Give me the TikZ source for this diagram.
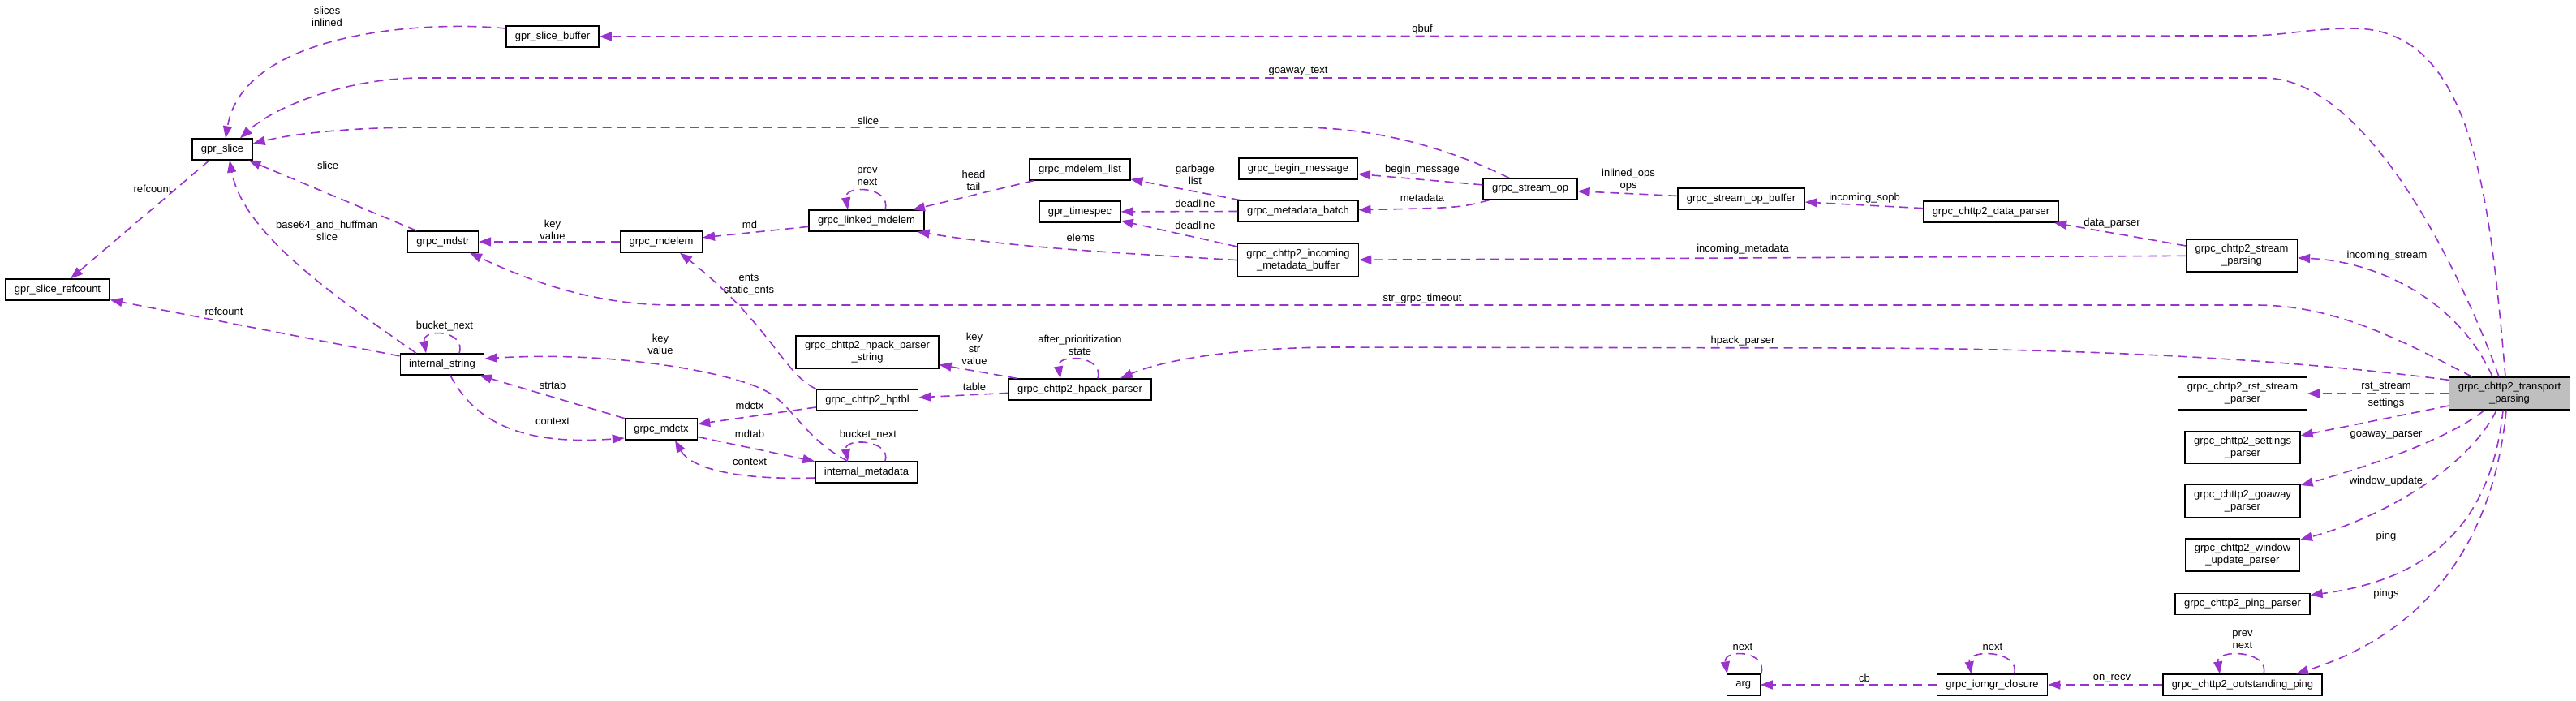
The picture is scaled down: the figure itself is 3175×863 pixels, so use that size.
\documentclass[tikz,border=0pt]{standalone}
\usepackage{fontspec}
\setmainfont{Liberation Sans}
\usepackage{tikz}
\usetikzlibrary{positioning, arrows.meta}
\definecolor{edgepurple}{rgb}{0.604,0.196,0.804}
\definecolor{rootgray}{rgb}{0.75,0.75,0.75}
\tikzstyle{cls}=[%
      rectangle, draw=black, line width=1.3pt, fill=white,
      font=\fontsize{13}{15}\selectfont, align=center,
      minimum height=26pt, inner xsep=11pt, inner ysep=3pt
]
\tikzstyle{cls2}=[cls, minimum height=40pt]
\tikzstyle{rootcls}=[cls2, fill=rootgray]
\tikzstyle{rel}=[%
      draw=edgepurple, line width=1.6pt, dash pattern=on 11pt off 7pt,
      -{Triangle[length=15pt,width=11pt]}
]
\tikzstyle{lbl}=[font=\fontsize{13}{15}\selectfont, align=center, inner sep=0pt]

\begin{document}
\begin{tikzpicture}[x=1pt, y=-1pt]
    \useasboundingbox (0,0) rectangle (3175,863);

    % classes
    \node[cls] (gsb)    at (681,45)   {gpr\_slice\_buffer};
    \node[cls] (gs)     at (274,184)  {gpr\_slice};
    \node[cls] (gsr)    at (71,357)   {gpr\_slice\_refcount};
    \node[cls] (mdstr)  at (546,298)  {grpc\_mdstr};
    \node[cls] (istr)   at (545,449)  {internal\_string};
    \node[cls] (mdelem) at (815,298)  {grpc\_mdelem};
    \node[cls] (mdctx)  at (815,529)  {grpc\_mdctx};
    \node[cls] (lmd)    at (1068,272) {grpc\_linked\_mdelem};
    \node[cls] (mdl)    at (1331,209) {grpc\_mdelem\_list};
    \node[cls] (ts)     at (1331,261) {gpr\_timespec};
    \node[cls2] (hps)   at (1069,434) {grpc\_chttp2\_hpack\_parser\\\_string};
    \node[cls] (hptbl)  at (1069,493) {grpc\_chttp2\_hptbl};
    \node[cls] (imd)    at (1068,582) {internal\_metadata};
    \node[cls] (hpp)    at (1331,480) {grpc\_chttp2\_hpack\_parser};
    \node[cls] (bm)     at (1600,208) {grpc\_begin\_message};
    \node[cls] (mb)     [below = 25pt of bm] {grpc\_metadata\_batch};
    \node[cls2] (imb)   [below = 26pt of mb] {grpc\_chttp2\_incoming\\\_metadata\_buffer};
    \node[cls] (sop)    at (1886,233) {grpc\_stream\_op};
    \node[cls] (sopb)   at (2146,245) {grpc\_stream\_op\_buffer};
    \node[cls] (dp)     at (2454,261) {grpc\_chttp2\_data\_parser};
    \node[cls2] (sp)    at (2763,315) {grpc\_chttp2\_stream\\\_parsing};
    \node[rootcls] (tp) at (3093,485) {grpc\_chttp2\_transport\\\_parsing};
    \node[cls2] (rst)   at (2764,485) {grpc\_chttp2\_rst\_stream\\\_parser};
    \node[cls2] (settings) [below = 25pt of rst]      {grpc\_chttp2\_settings\\\_parser};
    \node[cls2] (goaway)   [below = 25pt of settings] {grpc\_chttp2\_goaway\\\_parser};
    \node[cls2] (window)   [below = 25pt of goaway]   {grpc\_chttp2\_window\\\_update\_parser};
    \node[cls] (ping)      [below = 26pt of window]   {grpc\_chttp2\_ping\_parser};
    \node[cls] (oping)  at (2764,844) {grpc\_chttp2\_outstanding\_ping};
    \node[cls] (closure) [left = 141pt of oping] {grpc\_iomgr\_closure};
    \node[cls] (arg)     [left = 217pt of closure] {arg};

    % members
    \draw[rel] ([xshift=-5pt]tp.north) .. controls (3068,230) and (3045,35) .. (2900,35)
               .. controls (2845,35) and (2815,44) .. (2770,44) -- (gsb);
    \draw[rel] ([yshift=10pt]gsb.west) .. controls (520,25) and (300,40) .. ([xshift=4pt]gs.north);
    \draw[rel] ([xshift=-13pt]tp.north) .. controls (3050,380) and (2930,96) .. (2790,96) -- (520,96)
               .. controls (430,96) and (340,130) .. ([xshift=22pt]gs.north);
    \draw[rel] ([xshift=-26pt]sop.north) .. controls (1790,185) and (1700,157) .. (1600,157) -- (520,157)
               .. controls (430,157) and (360,165) .. ([yshift=7pt]gs.east);
    \draw[rel] (gs) -- (gsr);
    \draw[rel] (mdstr) -- (gs);
    \draw[rel] ([xshift=-32pt]istr.north) .. controls (420,370) and (300,290) .. ([xshift=9pt]gs.south);
    \draw[rel] (istr) -- (gsr);
    \draw[rel] ([xshift=21pt]istr.north) .. controls +(9,-29) and +(-5,-31) .. ([xshift=-20pt]istr.north);
    \draw[rel] (mdelem) -- (mdstr);
    \draw[rel] ([xshift=-46pt]tp.north) .. controls (2960,420) and (2880,376) .. (2780,376) -- (830,376)
               .. controls (730,376) and (650,345) .. ([xshift=33pt]mdstr.south);
    \draw[rel] ([xshift=-23pt]imd.north) .. controls (990,540) and (975,495) .. (940,480)
               .. controls (900,460) and (760,432) .. ([yshift=7pt]istr.east);
    \draw[rel] (hptbl.north west) .. controls (965,460) and (950,400) .. ([xshift=23pt]mdelem.south);
    \draw[rel] (lmd) -- (mdelem);
    \draw[rel] ([xshift=23pt]lmd.north) .. controls +(8,-29) and +(-5,-31) .. ([xshift=-23pt]lmd.north);
    \draw[rel] (mdl) -- (lmd);
    \draw[rel] (imb.west) .. controls (1380,312) and (1250,305) .. ([xshift=-9pt]lmd.south east);
    \draw[rel] (mb) -- (mdl);
    \draw[rel] (mb) -- (ts);
    \draw[rel] (imb) -- (ts);
    \draw[rel] (sop) -- (bm);
    \draw[rel] ([xshift=8pt]sop.south west) .. controls (1800,256) .. (mb);
    \draw[rel] (sopb) -- (sop);
    \draw[rel] (dp) -- (sopb);
    \draw[rel] (sp) -- (dp);
    \draw[rel] (sp) -- (imb);
    \draw[rel] ([xshift=-21pt]tp.north) .. controls (3030,370) and (2930,322) .. (sp);
    \draw[rel] ([yshift=-4pt]tp.north west) .. controls (2800,440) and (2550,430) .. (2300,429) -- (1650,428)
               .. controls (1520,428) and (1430,445) .. ([xshift=50pt]hpp.north);
    \draw[rel] ([xshift=22pt]hpp.north) .. controls +(8,-29) and +(-5,-31) .. ([xshift=-24pt]hpp.north);
    \draw[rel] (hpp) -- (hps);
    \draw[rel] (hpp) -- (hptbl);
    \draw[rel] (hptbl) -- (mdctx);
    \draw[rel] (mdctx) -- (istr);
    \draw[rel] ([xshift=10pt]istr.south) .. controls (590,530) and (660,548) .. ([yshift=-11pt]mdctx.west);
    \draw[rel] (mdctx) -- (imd);
    \draw[rel] ([yshift=-7pt]imd.west) .. controls (900,592) and (850,575) .. ([xshift=17pt]mdctx.south);
    \draw[rel] ([xshift=23pt]imd.north) .. controls +(8,-27) and +(-5,-29) .. ([xshift=-23pt]imd.north);
    \draw[rel] (tp) -- (rst);
    \draw[rel] (tp) -- (settings);
    \draw[rel] ([xshift=-31pt]tp.south) .. controls (3020,540) and (2920,575) .. (goaway);
    \draw[rel] ([xshift=-16pt]tp.south) .. controls (3040,580) and (2930,640) .. (window);
    \draw[rel] ([xshift=-8pt]tp.south) .. controls (3070,650) and (2990,715) .. (ping);
    \draw[rel] ([xshift=-4pt]tp.south) .. controls (3070,700) and (2960,790) .. ([xshift=66pt]oping.north);
    \draw[rel] ([xshift=26pt]oping.north) .. controls +(8,-29) and +(-5,-31) .. ([xshift=-28pt]oping.north);
    \draw[rel] (oping) -- (closure);
    \draw[rel] ([xshift=27pt]closure.north) .. controls +(8,-29) and +(-5,-31) .. ([xshift=-26pt]closure.north);
    \draw[rel] (closure) -- (arg);
    \draw[rel] ([xshift=22pt]arg.north) .. controls +(8,-29) and +(-5,-31) .. ([xshift=-20pt]arg.north);

    % member names
    \node[lbl] (lqbuf)     at (1753,36)  {qbuf};
    \node[lbl] (lslices)   at (403,20)   {slices\\inlined};
    \node[lbl] (lgotext)   at (1600,88)  {goaway\_text};
    \node[lbl] (lslice)    at (1070,149) {slice};
    \node[lbl] (lrefc)     at (188,233)  {refcount};
    \node[lbl] (lslicestr) at (404,204)  {slice};
    \node[lbl] (lbase)     at (403,284)  {base64\_and\_huffman\\slice};
    \node[lbl] (lrefcis)   at (276,384)  {refcount};
    \node[lbl] (lbucket)   at (548,402)  {bucket\_next};
    \node[lbl] (lkv)       at (681,283)  {key\\value};
    \node[lbl] (ltimeout)  at (1753,368) {str\_grpc\_timeout};
    \node[lbl] (lkvis)     at (814,424)  {key\\value};
    \node[lbl] (lents)     at (923,351)  {ents\\static\_ents};
    \node[lbl] (lmd)       at (924,277)  {md};
    \node[lbl] (lprev)     at (1069,218) {prev\\next};
    \node[lbl] (lhead)     at (1200,222) {head\\tail};
    \node[lbl] (lelems)    at (1332,293) {elems};
    \node[lbl] (lgarbage)  at (1473,215) {garbage\\list};
    \node[lbl] (ldl)       at (1473,251) {deadline};
    \node[lbl] (ldlin)     at (1473,278) {deadline};
    \node[lbl] (lbegin)    at (1753,209) {begin\_message};
    \node[lbl] (lmeta)     at (1753,244) {metadata};
    \node[lbl] (lops)      at (2007,222) {inlined\_ops\\ops};
    \node[lbl] (lsopb)     at (2298,244) {incoming\_sopb};
    \node[lbl] (ldp)       at (2603,275) {data\_parser};
    \node[lbl] (linmeta)   at (2148,307) {incoming\_metadata};
    \node[lbl] (linstream) at (2942,315) {incoming\_stream};
    \node[lbl] (lhpack)    at (2148,420) {hpack\_parser};
    \node[lbl] (lafter)    at (1331,425) {after\_prioritization\\state};
    \node[lbl] (lkstr)     at (1201,430) {key\\str\\value};
    \node[lbl] (ltable)    at (1201,477) {table};
    \node[lbl] (lmdctx)    at (924,500)  {mdctx};
    \node[lbl] (lstrtab)   at (681,475)  {strtab};
    \node[lbl] (lctx)      at (681,519)  {context};
    \node[lbl] (lmdtab)    at (924,535)  {mdtab};
    \node[lbl] (lctxmd)    at (924,569)  {context};
    \node[lbl] (lbucketmd) at (1070,536) {bucket\_next};
    \node[lbl] (lrst)      at (2941,477) {rst\_stream};
    \node[lbl] (lsettings) at (2941,497) {settings};
    \node[lbl] (lgoaway)   at (2941,536) {goaway\_parser};
    \node[lbl] (lwindow)   at (2941,593) {window\_update};
    \node[lbl] (lping)     at (2941,661) {ping};
    \node[lbl] (lpings)    at (2941,732) {pings};
    \node[lbl] (lprevping) at (2764,789) {prev\\next};
    \node[lbl] (lrecv)     at (2603,836) {on\_recv};
    \node[lbl] (lnextcl)   at (2456,797) {next};
    \node[lbl] (lcb)       at (2298,836) {cb};
    \node[lbl] (lnextarg)  at (2148,797) {next};
\end{tikzpicture}
\end{document}
